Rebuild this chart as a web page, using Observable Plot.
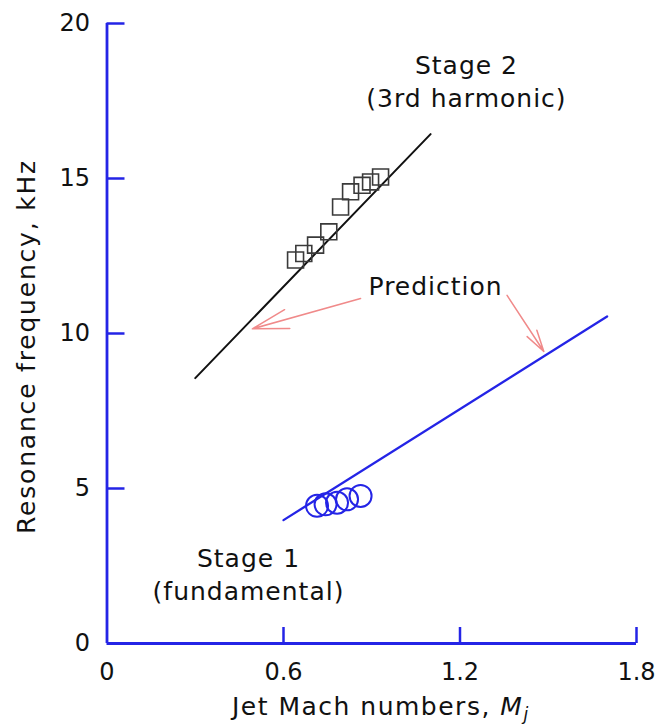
<!DOCTYPE html>
<html>
<head>
<meta charset="utf-8">
<script src="https://cdn.jsdelivr.net/npm/d3@7"></script>
<script src="https://cdn.jsdelivr.net/npm/@observablehq/plot@0.6"></script>
<style>
  body { margin: 0; background: white; }
</style>
</head>
<body>
<div id="chart"></div>
<script>
// Measured data
const stage2Mach = [0.641, 0.669, 0.709, 0.754, 0.794, 0.828, 0.867, 0.896, 0.930];
const stage2Freq = [12.37, 12.58, 12.85, 13.28, 14.08, 14.57, 14.78, 14.89, 15.05];
const stage1Mach = [0.714, 0.743, 0.782, 0.816, 0.862];
const stage1Freq = [4.44, 4.49, 4.54, 4.65, 4.76];

// Prediction lines (end points)
const pred2Mach = [0.30, 1.10];
const pred2Freq = [8.56, 16.43];
const pred1Mach = [0.60, 1.70];
const pred1Freq = [3.98, 10.55];

// Tick values and labels
const xTicks = [0, 0.6, 1.2, 1.8];
const xTickLabels = ["0", "0.6", "1.2", "1.8"];
const yTicks = [0, 5, 10, 15, 20];
const yTickLabels = ["0", "5", "10", "15", "20"];

// Annotations
const labelText = ["Stage 2\n(3rd harmonic)", "Stage 1\n(fundamental)", "Prediction"];
const labelX = [1.222, 0.481, 1.117];
const labelY = [19.13, 3.22, 11.99];
const arrowX1 = [0.862, 1.36];
const arrowY1 = [11.13, 11.23];
const arrowX2 = [0.494, 1.485];
const arrowY2 = [10.15, 9.42];

const xTitle = "Jet Mach numbers, Mj";
const yTitle = "Resonance frequency, kHz";

const blue = "#2424e6";
const ink = "#111111";

const stage2 = stage2Mach.map((m, i) => ({m, f: stage2Freq[i]}));
const stage1 = stage1Mach.map((m, i) => ({m, f: stage1Freq[i]}));
const pred2 = pred2Mach.map((m, i) => ({m, f: pred2Freq[i]}));
const pred1 = pred1Mach.map((m, i) => ({m, f: pred1Freq[i]}));
const labels = labelText.map((t, i) => ({t, x: labelX[i], y: labelY[i]}));
const arrows = arrowX1.map((x, i) => ({x1: x, y1: arrowY1[i], x2: arrowX2[i], y2: arrowY2[i]}));

const svg = Plot.plot({
  width: 658,
  height: 725,
  marginLeft: 106.5,
  marginRight: 22,
  marginTop: 23,
  marginBottom: 82,
  x: {domain: [0, 1.8]},
  y: {domain: [0, 20]},
  style: {fontFamily: "DejaVu Sans", background: "white", color: ink},
  marks: [
    // inward tick marks
    Plot.axisX({ticks: xTicks.slice(1), tickSize: -16, tickFormat: () => "", stroke: blue, strokeWidth: 2.5, label: null}),
    Plot.axisY({ticks: yTicks.slice(1), tickSize: -18, tickFormat: () => "", stroke: blue, strokeWidth: 2.5, label: null}),
    // tick labels
    Plot.axisX({ticks: xTicks, tickSize: 0, tickPadding: 19, tickFormat: (d, i) => xTickLabels[i], fontSize: 24, fill: ink, label: null}),
    Plot.axisY({ticks: yTicks, tickSize: 0, tickPadding: 17, tickFormat: (d, i) => yTickLabels[i], fontSize: 24, fill: ink, label: null}),
    // axis lines
    Plot.ruleX([0], {stroke: blue, strokeWidth: 2.8}),
    Plot.ruleY([0], {stroke: blue, strokeWidth: 2.8}),
    // prediction lines
    Plot.line(pred2, {x: "m", y: "f", stroke: ink, strokeWidth: 2}),
    Plot.line(pred1, {x: "m", y: "f", stroke: blue, strokeWidth: 2.3}),
    // measurements
    Plot.dot(stage2, {x: "m", y: "f", symbol: "square", r: 9, stroke: "#3a3a3a", strokeWidth: 1.6, fill: "none"}),
    Plot.dot(stage1, {x: "m", y: "f", r: 11, stroke: blue, strokeWidth: 2, fill: "none"}),
    // arrows
    Plot.arrow(arrows, {x1: "x1", y1: "y1", x2: "x2", y2: "y2", stroke: "#f08a8a", strokeWidth: 1.5, headAngle: 30, headLength: 48}),
    // annotations
    Plot.text(labels, {x: "x", y: "y", text: "t", lineAnchor: "top", lineHeight: 1.32, fontSize: 25, fill: ink}),
    // axis titles
    Plot.text([xTitle], {frameAnchor: "bottom", text: d => d, dx: 9, dy: 54, lineAnchor: "top", fontSize: 25, fill: ink}),
    Plot.text([yTitle], {frameAnchor: "left", text: d => d, textAnchor: "middle", dx: -80.5, dy: 13, rotate: -90, fontSize: 25, fill: ink})
  ]
});

// Typographic touches: letter spacing and italic M with subscript j
d3.select(svg).selectAll("text").each(function() {
  const t = this.textContent;
  const sel = d3.select(this);
  if (t === xTitle) {
    sel.style("letter-spacing", "1.5px");
    sel.text("");
    sel.append("tspan").text("Jet Mach numbers, ");
    sel.append("tspan").attr("font-style", "italic").text("M");
    sel.append("tspan").attr("font-style", "italic").attr("font-size", "17").attr("dy", "0.3em").text("j");
  } else if (t === yTitle) {
    sel.style("letter-spacing", "1.8px");
  } else if (t === "Prediction") {
    sel.style("letter-spacing", "1px");
  }
});
d3.select(svg).selectAll("tspan").each(function() {
  const t = this.textContent;
  if (t.startsWith("Stage") || t.startsWith("(")) d3.select(this.parentNode).style("letter-spacing", "1px");
});

document.getElementById("chart").appendChild(svg);
</script>
</body>
</html>
